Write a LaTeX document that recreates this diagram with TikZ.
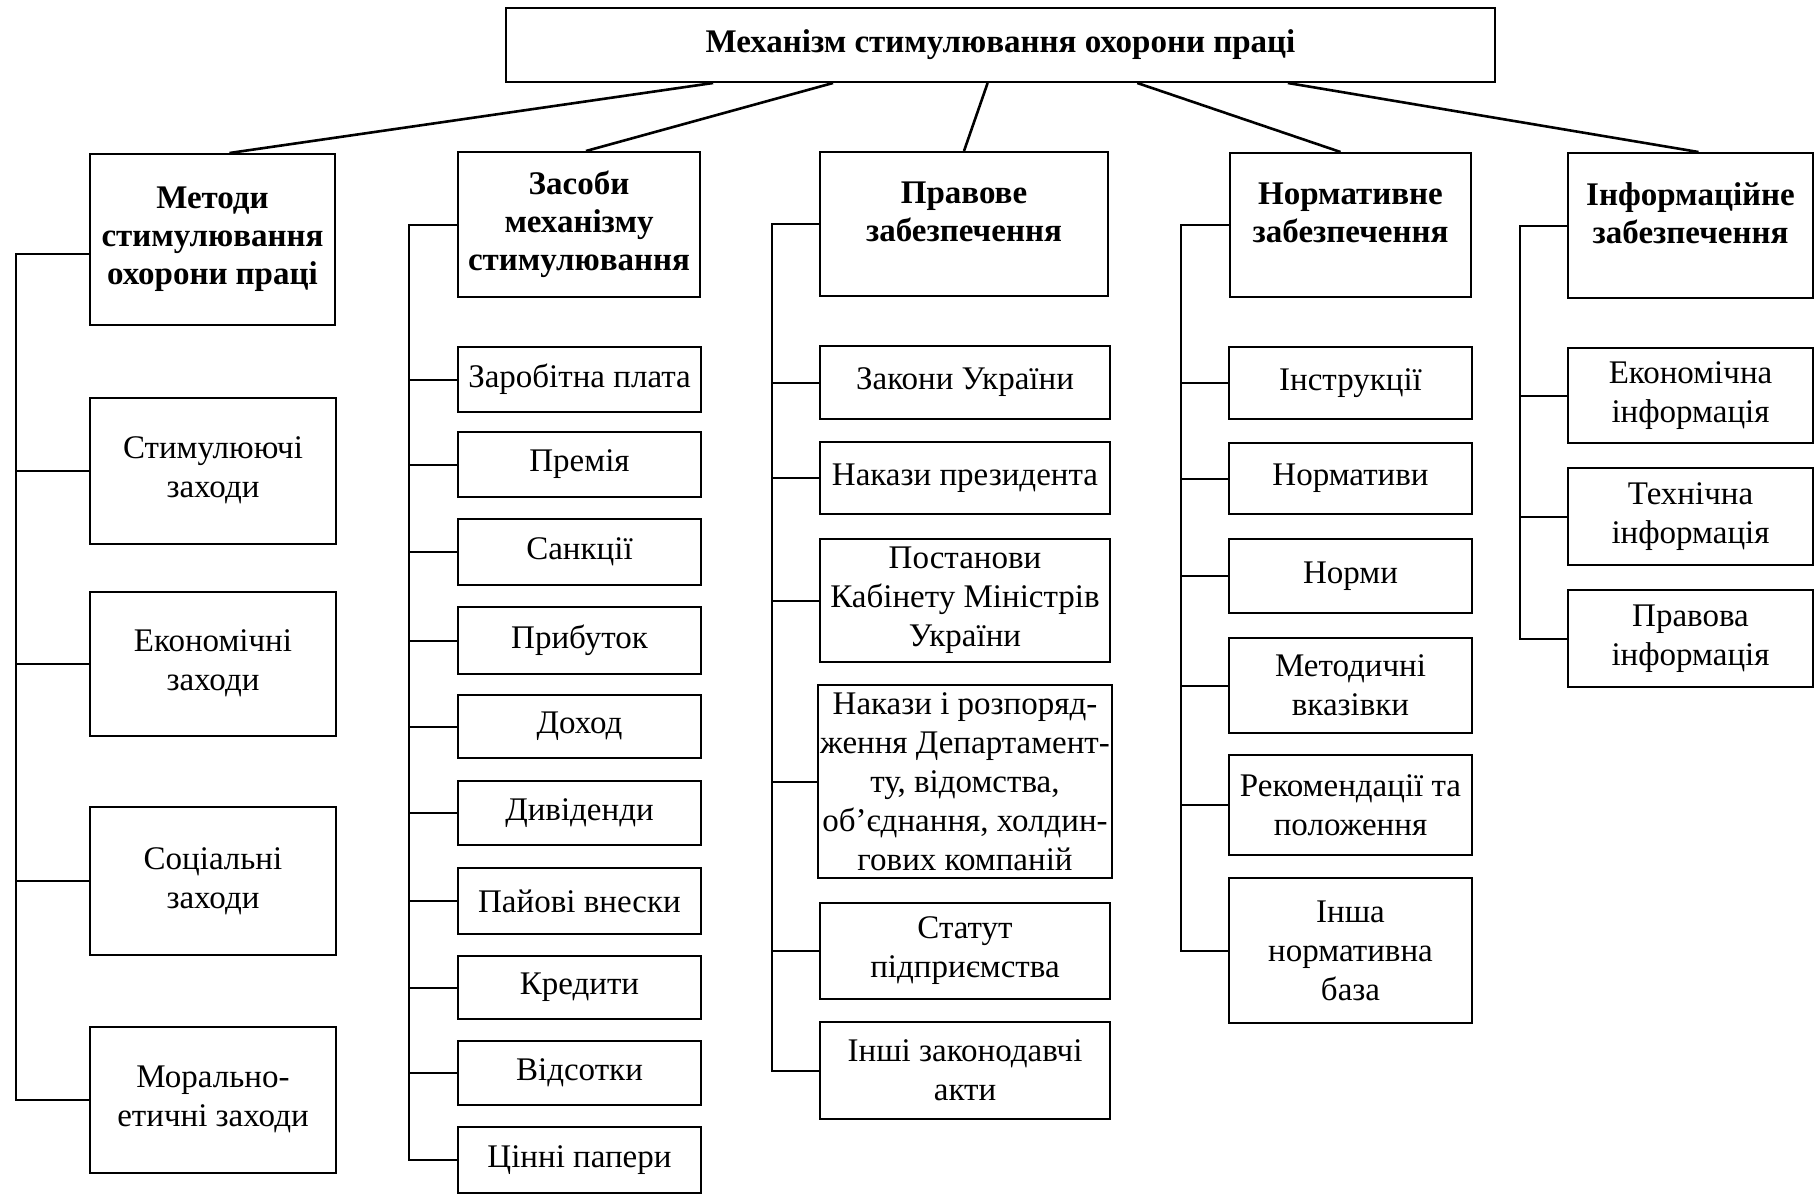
\documentclass[tikz,border=0pt]{standalone}
\usepackage{fontspec}
\setmainfont{Liberation Serif}
\usetikzlibrary{calc}

\begin{document}
\begin{tikzpicture}[x=0.5pt,y=-0.5pt,
    box/.style={draw,line width=1pt,inner sep=1pt,align=center,
      font=\fontsize{16.5}{19.5}\selectfont},
    head/.style={box,font=\fontsize{16.5}{19}\selectfont\bfseries},
    headup/.style={head,text depth=12pt},
    link/.style={line width=1pt},
    rise/.style={line width=1.3pt}]
        \useasboundingbox (0,0) rectangle (1819,1194);
        % top
        \node[head,minimum width=494.5pt,minimum height=37pt] (mech) at (1000.5,45) {Механізм стимулювання охорони праці};
        % groups
        \node[head,minimum width=122.5pt,minimum height=85.5pt] (met) at (212.5,239.5) {Методи\\стимулювання\\охорони праці};
        \node[head,minimum width=121pt,minimum height=72.5pt] (zas) at (579,224.5) {Засоби\\механізму\\стимулювання};
        \node[headup,minimum width=144pt,minimum height=72pt] (prav) at (964,224) {Правове\\забезпечення};
        \node[headup,minimum width=120.5pt,minimum height=72pt] (norm) at (1350.5,225) {Нормативне\\забезпечення};
        \node[headup,minimum width=122.5pt,minimum height=72.5pt] (inf) at (1690.5,225.5) {Інформаційне\\забезпечення};
        % methods
        \node[box,minimum width=123pt,minimum height=73pt] (stim) at (213,470.5) {Стимулюючі\\заходи};
        \node[box,minimum width=123pt,minimum height=72pt] (ekon) at (213,663.5) {Економічні\\заходи};
        \node[box,minimum width=123pt,minimum height=74pt] (soc) at (213,881) {Соціальні\\заходи};
        \node[box,minimum width=123pt,minimum height=73pt] (mor) at (213,1099.5) {Морально-\\етичні заходи};
        % means
        \node[box,minimum width=121.5pt,minimum height=32.5pt] (zar) at (579.5,379.5) {Заробітна плата};
        \node[box,minimum width=121.5pt,minimum height=32.5pt] (prem) at (579.5,464.5) {Премія};
        \node[box,minimum width=121.5pt,minimum height=33pt] (sank) at (579.5,552) {Санкції};
        \node[box,minimum width=121.5pt,minimum height=33.5pt] (prib) at (579.5,640.5) {Прибуток};
        \node[box,minimum width=121.5pt,minimum height=31.5pt] (doh) at (579.5,726.5) {Доход};
        \node[box,minimum width=121.5pt,minimum height=32pt] (div) at (579.5,813) {Дивіденди};
        \node[box,minimum width=121.5pt,minimum height=33pt] (pai) at (579.5,901) {Пайові внески};
        \node[box,minimum width=121.5pt,minimum height=31.5pt] (kred) at (579.5,987.5) {Кредити};
        \node[box,minimum width=121.5pt,minimum height=32pt] (vids) at (579.5,1073) {Відсотки};
        \node[box,minimum width=121.5pt,minimum height=33pt] (cin) at (579.5,1160) {Цінні папери};
        % legal
        \node[box,minimum width=145pt,minimum height=36.5pt] (zak) at (965,382.5) {Закони України};
        \node[box,minimum width=145pt,minimum height=36pt] (nakp) at (965,478) {Накази президента};
        \node[box,minimum width=145pt,minimum height=61.5pt] (post) at (965,600.5) {Постанови\\Кабінету Міністрів\\України};
        \node[box,minimum width=145pt,minimum height=96.5pt] (naks) at (965,781.5) {Накази і розпоряд-\\ження Департамент-\\ту, відомства,\\об'єднання, холдин-\\гових компаній};
        \node[box,minimum width=145pt,minimum height=48pt] (stat) at (965,951) {Статут\\підприємства};
        \node[box,minimum width=145pt,minimum height=48.5pt] (inshi) at (965,1070.5) {Інші законодавчі\\акти};
        % normative
        \node[box,minimum width=121.5pt,minimum height=36pt] (instr) at (1350.5,383) {Інструкції};
        \node[box,minimum width=121.5pt,minimum height=35.5pt] (normat) at (1350.5,478.5) {Нормативи};
        \node[box,minimum width=121.5pt,minimum height=37pt] (normy) at (1350.5,576) {Норми};
        \node[box,minimum width=121.5pt,minimum height=47.5pt] (metod) at (1350.5,685.5) {Методичні\\вказівки};
        \node[box,minimum width=121.5pt,minimum height=50pt] (rek) at (1350.5,805) {Рекомендації та\\положення};
        \node[box,minimum width=121.5pt,minimum height=72.5pt] (insha) at (1350.5,950.5) {Інша\\нормативна\\база};
        % information
        \node[box,minimum width=122.5pt,minimum height=47.5pt] (ekinf) at (1690.5,395.5) {Економічна\\інформація};
        \node[box,minimum width=122.5pt,minimum height=48.5pt] (tekh) at (1690.5,516.5) {Технічна\\інформація};
        \node[box,minimum width=122.5pt,minimum height=48.5pt] (pravinf) at (1690.5,638.5) {Правова\\інформація};
        % edges from top
        \draw[rise] ($(mech.south west)!0.210!(mech.south east)$) -- ([xshift=8.5pt]met.north);
        \draw[rise] ($(mech.south west)!0.331!(mech.south east)$) -- ([xshift=3.5pt]zas.north);
        \draw[rise] ($(mech.south west)!0.487!(mech.south east)$) -- (prav.north);
        \draw[rise] ($(mech.south west)!0.638!(mech.south east)$) -- ([xshift=-5pt]norm.north);
        \draw[rise] ($(mech.south west)!0.790!(mech.south east)$) -- ([xshift=4pt]inf.north);
        % buses
        \coordinate (metbus) at ([xshift=-36.5pt,yshift=-7pt]met.west);
        \coordinate (zasbus) at ([xshift=-24pt]zas.west);
        \coordinate (pravbus) at ([xshift=-23.5pt]prav.west);
        \coordinate (normbus) at ([xshift=-24pt]norm.west);
        \coordinate (infbus) at ([xshift=-23.5pt]inf.west);
        \draw[link] (metbus -| met.west) -- (metbus) |- (mor.west);
        \draw[link] (zas.west) -- (zasbus) |- (cin.west);
        \draw[link] (prav.west) -- (pravbus) |- (inshi.west);
        \draw[link] (norm.west) -- (normbus) |- (insha.west);
        \draw[link] (inf.west) -- (infbus) |- (pravinf.west);
        % edges to items
        \draw[link] (metbus |- stim.west) -- (stim.west);
        \draw[link] (metbus |- ekon.west) -- (ekon.west);
        \draw[link] (metbus |- soc.west) -- (soc.west);
        \draw[link] (zasbus |- zar.west) -- (zar.west);
        \draw[link] (zasbus |- prem.west) -- (prem.west);
        \draw[link] (zasbus |- sank.west) -- (sank.west);
        \draw[link] (zasbus |- prib.west) -- (prib.west);
        \draw[link] (zasbus |- doh.west) -- (doh.west);
        \draw[link] (zasbus |- div.west) -- (div.west);
        \draw[link] (zasbus |- pai.west) -- (pai.west);
        \draw[link] (zasbus |- kred.west) -- (kred.west);
        \draw[link] (zasbus |- vids.west) -- (vids.west);
        \draw[link] (pravbus |- zak.west) -- (zak.west);
        \draw[link] (pravbus |- nakp.west) -- (nakp.west);
        \draw[link] (pravbus |- post.west) -- (post.west);
        \draw[link] (pravbus |- naks.west) -- (naks.west);
        \draw[link] (pravbus |- stat.west) -- (stat.west);
        \draw[link] (normbus |- instr.west) -- (instr.west);
        \draw[link] (normbus |- normat.west) -- (normat.west);
        \draw[link] (normbus |- normy.west) -- (normy.west);
        \draw[link] (normbus |- metod.west) -- (metod.west);
        \draw[link] (normbus |- rek.west) -- (rek.west);
        \draw[link] (infbus |- ekinf.west) -- (ekinf.west);
        \draw[link] (infbus |- tekh.west) -- (tekh.west);
      \end{tikzpicture}
\end{document}
